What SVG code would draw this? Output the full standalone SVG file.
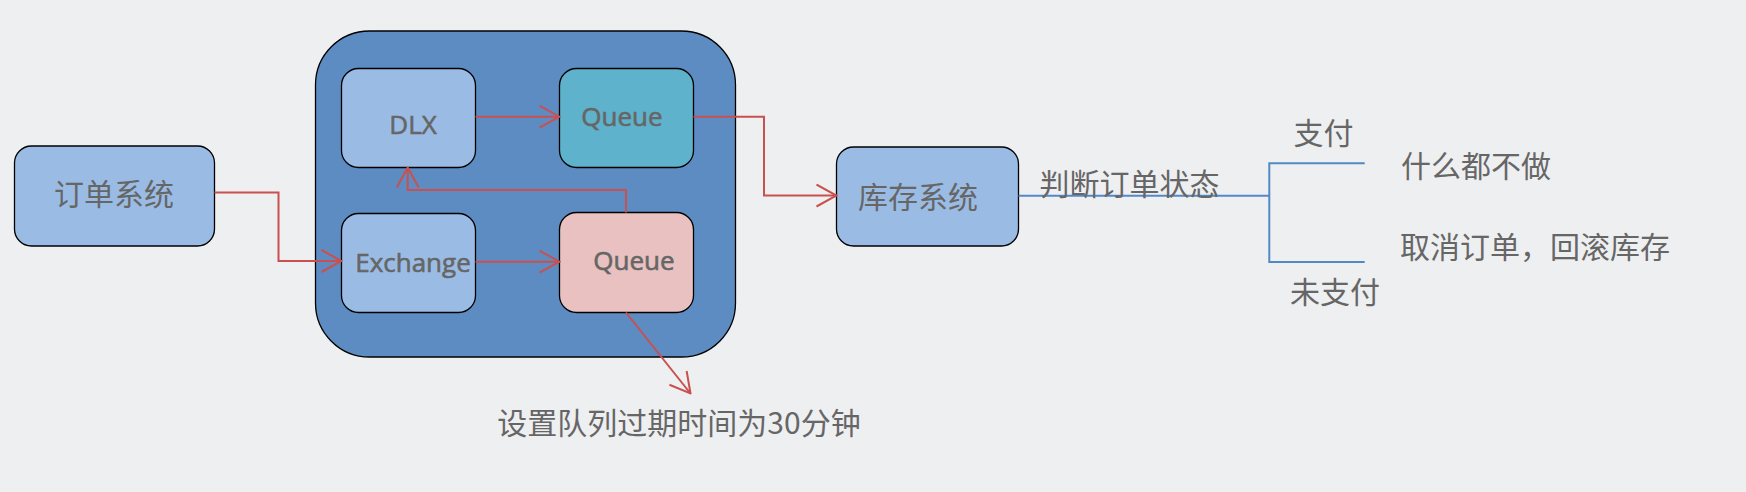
<svg xmlns="http://www.w3.org/2000/svg" width="1746" height="492" viewBox="0 0 1746 492">
<style>
  .bg { fill: #EEEFF1; }
  .box { stroke: #000; stroke-width: 1.3; }
  .light { fill: #9ABCE4; }
  .teal { fill: #5EB2CB; }
  .pink { fill: #E8C1C0; }
  .cont { fill: #5C8CC2; }
  .cjk { font-family: "Noto Sans CJK SC", "Noto Sans", sans-serif; font-size: 30px; fill: #666666; }
  .lat { font-family: "Open Sans", "Noto Sans", sans-serif; font-size: 26px; fill: #666666; stroke: #666666; stroke-width: 0.6; }
  .red { fill: none; stroke: #C9504F; stroke-width: 2; }
  .blue { fill: none; stroke: #5388C7; stroke-width: 2; }
</style>
<defs>
  <marker id="arr" viewBox="0 0 22 24" refX="21" refY="12" markerWidth="22" markerHeight="24" markerUnits="userSpaceOnUse" orient="auto">
    <path d="M1,1 L21,12 L1,23" fill="none" stroke="#C9504F" stroke-width="2"/>
  </marker>
</defs>
<rect class="bg" x="0" y="0" width="1746" height="492"/>

<g id="container">
  <rect class="box cont" x="315.5" y="31" width="420" height="326" rx="54"/>
</g>

<g id="order-system">
  <rect class="box light" x="14.5" y="146" width="200" height="100" rx="17"/>
  <text class="cjk" x="114" y="205" text-anchor="middle">订单系统</text>
</g>

<g id="dlx">
  <rect class="box light" x="341.5" y="68.5" width="134" height="99" rx="17"/>
  <text class="lat" x="413" y="134" text-anchor="middle">DLX</text>
</g>

<g id="queue-dead">
  <rect class="box teal" x="559.5" y="68.5" width="134" height="99" rx="17"/>
  <text class="lat" x="622" y="126" text-anchor="middle">Queue</text>
</g>

<g id="exchange">
  <rect class="box light" x="341.5" y="213.5" width="134" height="99" rx="17"/>
  <text class="lat" x="413" y="272" text-anchor="middle">Exchange</text>
</g>

<g id="queue-ttl">
  <rect class="box pink" x="559.5" y="212.5" width="134" height="100" rx="17"/>
  <text class="lat" x="634" y="270" text-anchor="middle">Queue</text>
</g>

<g id="stock-system">
  <rect class="box light" x="836.5" y="147" width="182" height="99" rx="17"/>
  <text class="cjk" x="918" y="208" text-anchor="middle">库存系统</text>
</g>

<g id="connectors">
  <polyline class="red" points="214.5,192.5 278.5,192.5 278.5,261 341.5,261" marker-end="url(#arr)"/>
  <polyline class="red" points="475.5,116.7 559.5,116.7" marker-end="url(#arr)"/>
  <polyline class="red" points="475.5,261.7 559.5,261.7" marker-end="url(#arr)"/>
  <polyline class="red" points="626,212.5 626,190 407.7,190 407.7,167.5" marker-end="url(#arr)"/>
  <polyline class="red" points="693.5,116.7 764,116.7 764,195.5 836.5,195.5" marker-end="url(#arr)"/>
  <polyline class="red" points="626,312.5 690.5,393.5" marker-end="url(#arr)"/>
  <polyline class="blue" points="1018.5,195.7 1269.3,195.7"/>
  <polyline class="blue" points="1364.7,163.3 1269.3,163.3 1269.3,262 1364.7,262"/>
</g>

<g id="labels">
  <text class="cjk" x="679" y="434" text-anchor="middle">设置队列过期时间为30分钟</text>
  <text class="cjk" x="1129.5" y="195" text-anchor="middle">判断订单状态</text>
  <text class="cjk" x="1323.5" y="144" text-anchor="middle">支付</text>
  <text class="cjk" x="1335" y="303" text-anchor="middle">未支付</text>
  <text class="cjk" x="1476" y="176.5" text-anchor="middle">什么都不做</text>
  <text class="cjk" x="1400" y="258">取消订单，回滚库存</text>
</g>
</svg>
